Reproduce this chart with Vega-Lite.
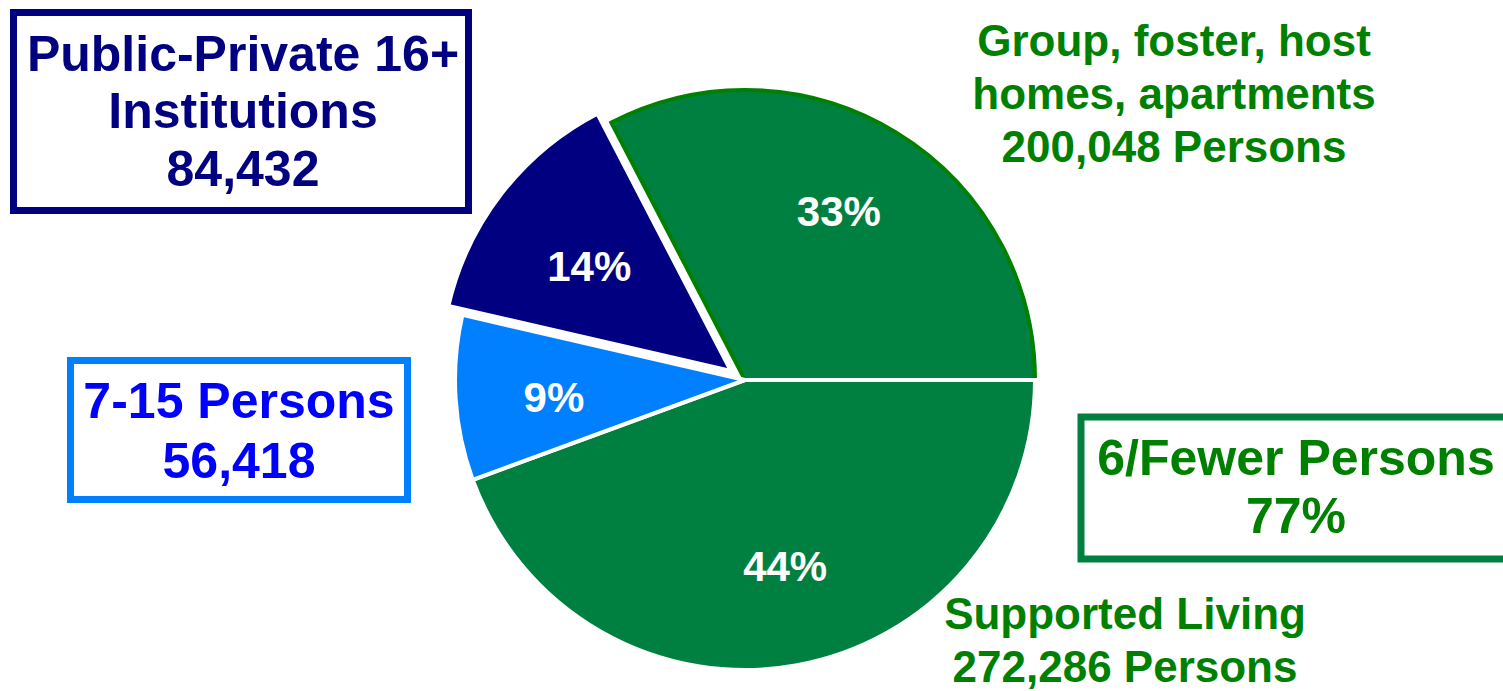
{
  "$schema": "https://vega.github.io/schema/vega-lite/v6.json",
  "autosize": {"type": "none"},
  "width": 1503,
  "height": 691,
  "padding": 0,
  "background": "white",
  "config": {"view": {"stroke": null}},
  "datasets": {
    "pie": [
      {"cat": "group", "value": 200048, "ord": 4, "pct": "33%"},
      {"cat": "supported", "value": 272286, "ord": 1, "pct": "44%"},
      {"cat": "mid", "value": 56418, "ord": 2, "pct": "9%"},
      {"cat": "inst", "value": 84432, "ord": 3, "pct": "14%"}
    ],
    "boxes": [
      {"cat": "inst", "x1": 13.5, "y1": 12.5, "x2": 468.5, "y2": 210.5},
      {"cat": "mid", "x1": 70.5, "y1": 360.5, "x2": 407.5, "y2": 499.5},
      {"cat": "small", "x1": 1081, "y1": 417, "x2": 1515, "y2": 559}
    ],
    "boxLabels": [
      {"cat": "inst", "t": "Public-Private 16+", "x": 243, "y": 71},
      {"cat": "inst", "t": "Institutions", "x": 243, "y": 128},
      {"cat": "inst", "t": "84,432", "x": 243, "y": 186},
      {"cat": "mid", "t": "7-15 Persons", "x": 239, "y": 418},
      {"cat": "mid", "t": "56,418", "x": 239, "y": 478},
      {"cat": "small", "t": "6/Fewer Persons", "x": 1296, "y": 475},
      {"cat": "small", "t": "77%", "x": 1296, "y": 533}
    ],
    "freeLabels": [
      {"t": "Group, foster, host", "x": 1174, "y": 56},
      {"t": "homes, apartments", "x": 1174, "y": 109},
      {"t": "200,048 Persons", "x": 1174, "y": 162},
      {"t": "Supported Living", "x": 1125, "y": 629},
      {"t": "272,286 Persons", "x": 1125, "y": 682}
    ]
  },
  "resolve": {"scale": {"fill": "independent", "stroke": "independent"}},
  "layer": [
    {
      "data": {"name": "pie"},
      "mark": {"type": "arc", "outerRadius": 290, "strokeWidth": 4, "strokeJoin": "miter"},
      "encoding": {
        "x": {"datum": 745, "type": "quantitative", "scale": {"domain": [0, 1503], "nice": false, "zero": false}, "axis": null},
        "y": {"datum": 380, "type": "quantitative", "scale": {"domain": [0, 691], "nice": false, "zero": false, "reverse": true}, "axis": null},
        "theta": {"field": "value", "type": "quantitative", "stack": true, "scale": {"range": [1.5707963, 7.8539816]}},
        "order": {"field": "ord", "type": "quantitative"},
        "fill": {"field": "cat", "type": "nominal", "legend": null, "scale": {"domain": ["supported", "mid", "inst", "group"], "range": ["#008040", "#0080FF", "#000080", "#008040"]}},
        "stroke": {"condition": {"test": "datum.cat === 'group'", "value": "#008000"}, "value": "white"},
        "opacity": {"condition": {"test": "datum.cat === 'inst'", "value": 0}, "value": 1}
      }
    },
    {
      "data": {"name": "pie"},
      "mark": {"type": "arc", "outerRadius": 290, "strokeWidth": 4, "stroke": "white", "strokeJoin": "miter"},
      "encoding": {
        "x": {"datum": 731, "type": "quantitative", "scale": {"domain": [0, 1503], "nice": false, "zero": false}, "axis": null},
        "y": {"datum": 371, "type": "quantitative", "scale": {"domain": [0, 691], "nice": false, "zero": false, "reverse": true}, "axis": null},
        "theta": {"field": "value", "type": "quantitative", "stack": true, "scale": {"range": [1.5707963, 7.8539816]}},
        "order": {"field": "ord", "type": "quantitative"},
        "fill": {"field": "cat", "type": "nominal", "legend": null, "scale": {"domain": ["supported", "mid", "inst", "group"], "range": ["#008040", "#0080FF", "#000080", "#008040"]}},
        "opacity": {"condition": {"test": "datum.cat === 'inst'", "value": 1}, "value": 0}
      }
    },
    {
      "data": {"name": "pie"},
      "mark": {"type": "text", "radius": 192, "thetaOffset": -0.035, "font": "Liberation Sans", "fontWeight": "bold", "fontSize": 42, "fill": "white", "align": "center", "baseline": "middle"},
      "encoding": {
        "x": {"datum": 745, "type": "quantitative", "scale": {"domain": [0, 1503], "nice": false, "zero": false}, "axis": null},
        "y": {"datum": 380, "type": "quantitative", "scale": {"domain": [0, 691], "nice": false, "zero": false, "reverse": true}, "axis": null},
        "theta": {"field": "value", "type": "quantitative", "stack": true, "scale": {"range": [1.5707963, 7.8539816]}},
        "order": {"field": "ord", "type": "quantitative"},
        "text": {"field": "pct", "type": "nominal"}
      }
    },
    {
      "data": {"name": "boxes"},
      "mark": {"type": "rect", "fill": "white", "strokeWidth": 7, "strokeJoin": "miter"},
      "encoding": {
        "x": {"field": "x1", "type": "quantitative", "scale": {"domain": [0, 1503], "nice": false, "zero": false}, "axis": null},
        "x2": {"field": "x2"},
        "y": {"field": "y1", "type": "quantitative", "scale": {"domain": [0, 691], "nice": false, "zero": false, "reverse": true}, "axis": null},
        "y2": {"field": "y2"},
        "stroke": {"field": "cat", "type": "nominal", "legend": null, "scale": {"domain": ["inst", "mid", "small"], "range": ["#000080", "#0080FF", "#008040"]}}
      }
    },
    {
      "data": {"name": "boxLabels"},
      "mark": {"type": "text", "font": "Liberation Sans", "fontWeight": "bold", "fontSize": 50, "align": "center", "baseline": "alphabetic"},
      "encoding": {
        "x": {"field": "x", "type": "quantitative", "scale": {"domain": [0, 1503], "nice": false, "zero": false}, "axis": null},
        "y": {"field": "y", "type": "quantitative", "scale": {"domain": [0, 691], "nice": false, "zero": false, "reverse": true}, "axis": null},
        "text": {"field": "t", "type": "nominal"},
        "fill": {"field": "cat", "type": "nominal", "legend": null, "scale": {"domain": ["inst", "mid", "small"], "range": ["#000080", "#0000FF", "#008000"]}}
      }
    },
    {
      "data": {"name": "freeLabels"},
      "mark": {"type": "text", "font": "Liberation Sans", "fontWeight": "bold", "fontSize": 44, "align": "center", "baseline": "alphabetic", "fill": "#008000"},
      "encoding": {
        "x": {"field": "x", "type": "quantitative", "scale": {"domain": [0, 1503], "nice": false, "zero": false}, "axis": null},
        "y": {"field": "y", "type": "quantitative", "scale": {"domain": [0, 691], "nice": false, "zero": false, "reverse": true}, "axis": null},
        "text": {"field": "t", "type": "nominal"}
      }
    }
  ]
}
